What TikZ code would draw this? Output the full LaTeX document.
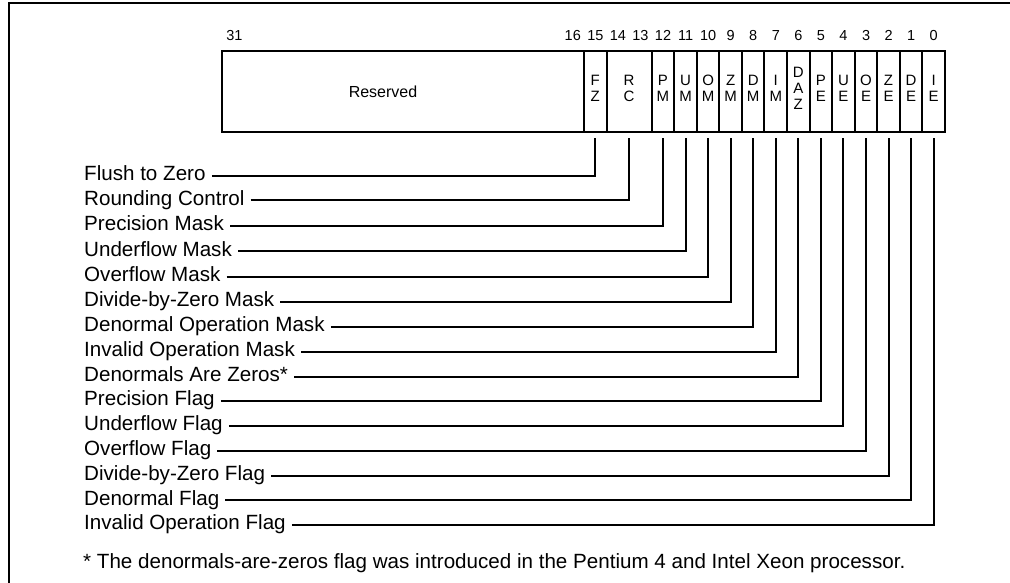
\documentclass[tikz,border=0pt]{standalone}
\usepackage{fontspec}
\setmainfont{Liberation Sans}
\usetikzlibrary{positioning}

\begin{document}
\begin{tikzpicture}[x=1pt, y=-1pt, node distance=0pt,
    field/.style={draw, line width=2pt, inner sep=0pt, outer sep=0pt,
      minimum width=22.56pt, minimum height=81pt, align=center,
      text depth=7pt, font=\fontsize{15}{16}\selectfont},
    bitno/.style={inner sep=0pt, font=\fontsize{14.5}{16}\selectfont},
    desc/.style={anchor=west, inner sep=0pt, text height=10pt, text depth=0pt,
      font=\fontsize{20.6}{24}\selectfont},
    tick/.style={draw, line width=2pt, shorten <=6pt, shorten >=6pt,
      to path={-| (\tikztotarget)}}]
   \useasboundingbox (0,0) rectangle (1010,583);
   \draw[line width=2.4pt] (8.7,583) |- (1010,3.3);

   % register fields
   \node[field, anchor=west, minimum width=362pt, text depth=0pt,
     font=\fontsize{16}{18}\selectfont] (rsv) at (222,91.5) {Reserved\hspace*{40pt}};
   \node[field] (fz) [right=of rsv] {F\\Z};
   \node[field, minimum width=45.12pt] (rc) [right=of fz] {R\\C};
   \node[field] (pm) [right=of rc] {P\\M};
   \node[field] (um) [right=of pm] {U\\M};
   \node[field] (om) [right=of um] {O\\M};
   \node[field] (zm) [right=of om] {Z\\M};
   \node[field] (dm) [right=of zm] {D\\M};
   \node[field] (im) [right=of dm] {I\\M};
   \node[field] (daz) [right=of im] {D\\A\\Z};
   \node[field] (pe) [right=of daz] {P\\E};
   \node[field] (ue) [right=of pe] {U\\E};
   \node[field] (oe) [right=of ue] {O\\E};
   \node[field] (ze) [right=of oe] {Z\\E};
   \node[field] (de) [right=of ze] {D\\E};
   \node[field] (ie) [right=of de] {I\\E};

   % bit numbers
   \foreach \b in {0,...,16,31}
     \node[bitno] (n\b) at ({945-22.56*(\b+0.5)},35.5) {\b};

   % descriptions
   \node[desc] (lfz) at (84,176) {Flush to Zero};
   \node[desc] (lrc) at (84,200.5) {Rounding Control};
   \node[desc] (lpm) at (84,225.5) {Precision Mask};
   \node[desc] (lum) at (84,251) {Underflow Mask};
   \node[desc] (lom) at (84,276.5) {Overflow Mask};
   \node[desc] (lzm) at (84,301.5) {Divide-by-Zero Mask};
   \node[desc] (ldm) at (84,326.5) {Denormal Operation Mask};
   \node[desc] (lim) at (84,351.5) {Invalid Operation Mask};
   \node[desc] (ldaz) at (84,376.5) {Denormals Are Zeros*};
   \node[desc] (lpe) at (84,400.5) {Precision Flag};
   \node[desc] (lue) at (84,425.5) {Underflow Flag};
   \node[desc] (loe) at (84,450.5) {Overflow Flag};
   \node[desc] (lze) at (84,475.5) {Divide-by-Zero Flag};
   \node[desc] (lde) at (84,500) {Denormal Flag};
   \node[desc] (lie) at (84,524.7) {Invalid Operation Flag};

   \path
    (lfz) edge[tick] (fz)
    (lrc) edge[tick] (rc)
    (lpm) edge[tick] (pm)
    (lum) edge[tick] (um)
    (lom) edge[tick] (om)
    (lzm) edge[tick] (zm)
    (ldm) edge[tick] (dm)
    (lim) edge[tick] (im)
    (ldaz) edge[tick] (daz)
    (lpe) edge[tick] (pe)
    (lue) edge[tick] (ue)
    (loe) edge[tick] (oe)
    (lze) edge[tick] (ze)
    (lde) edge[tick] (de)
    (lie) edge[tick] (ie)
    ;

   \node[anchor=base west, inner sep=0pt, font=\fontsize{20.6}{24}\selectfont]
     (note) at (83,568) {* The denormals-are-zeros flag was introduced in the Pentium 4 and Intel Xeon processor.};
\end{tikzpicture}
\end{document}
